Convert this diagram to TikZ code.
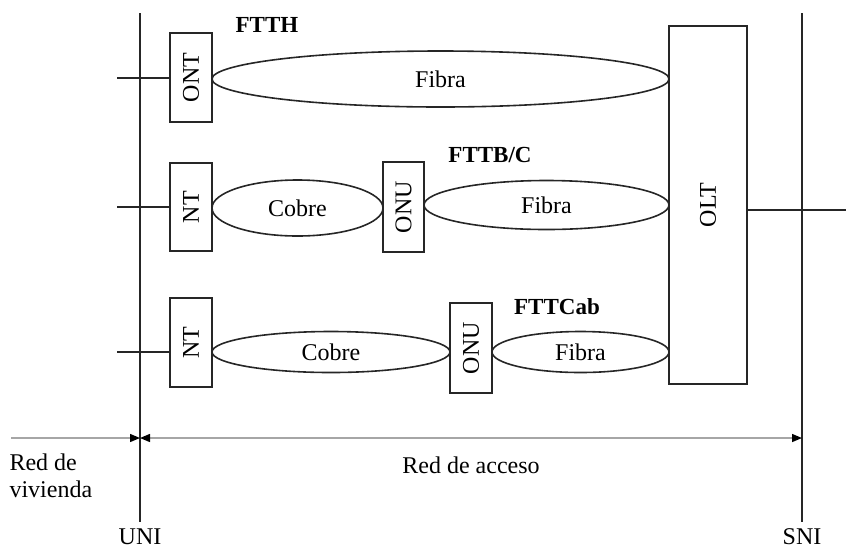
\documentclass[tikz,border=0pt]{standalone}
\usepackage{fontspec}
\setmainfont{Liberation Serif}
\usetikzlibrary{shapes.geometric,arrows.meta}
\begin{document}
\begin{tikzpicture}[x=1pt,y=-1pt,
  ln/.style={line width=1.6pt,draw=black!85},
  boxv/.style={ln,rectangle,rotate=90,inner sep=0pt,font=\fontsize{24}{26}\selectfont},
  ell/.style={ln,ellipse,inner sep=0pt,font=\fontsize{24}{26}\selectfont},
  lbl/.style={font=\fontsize{24}{26}\selectfont},
  blbl/.style={font=\bfseries\fontsize{23}{26}\selectfont},
  dim/.style={line width=1.4pt,draw=black!35},
  tip/.tip={Triangle[length=10pt,width=8pt,black]}
]
\useasboundingbox (0,0) rectangle (846,550);
% interface lines
\coordinate (unitop) at (140,13);
\coordinate (unibot) at (140,522);
\coordinate (snitop) at (802,13);
\coordinate (snibot) at (802,522);
\draw[ln] (unitop) -- (unibot);
\draw[ln] (snitop) -- (snibot);
\node[lbl] (uni) at (140,537) {UNI};
\node[lbl] (sni) at (802,537) {SNI};
% OLT
\node[boxv,minimum width=358pt,minimum height=78pt] (olt) at (708,205) {OLT};
\coordinate (oltout) at (846,210);
\draw[ln] (olt.south |- oltout) -- (oltout);
% Row 1 FTTH
\node[boxv,minimum width=89pt,minimum height=42pt] (ont) at (191,77.5) {ONT};
\coordinate (s1) at (117,78);
\draw[ln] (s1) -- (s1 -| ont.north);
\node[ell,minimum width=457pt,minimum height=56pt] (f1) at (440.5,79) {Fibra};
\node[blbl] (ftth) at (267,25) {FTTH};
% Row 2 FTTB/C
\node[boxv,minimum width=88pt,minimum height=42pt] (nt2) at (191,207) {NT};
\coordinate (s2) at (117,207);
\draw[ln] (s2) -- (s2 -| nt2.north);
\node[ell,minimum width=171pt,minimum height=56pt] (c2) at (297.5,208) {Cobre};
\node[boxv,minimum width=90pt,minimum height=41pt] (onu2) at (403.5,207) {ONU};
\node[ell,minimum width=245pt,minimum height=49pt] (f2) at (546.5,205) {Fibra};
\node[blbl] (fttb) at (490,155) {FTTB/C};
% Row 3 FTTCab
\node[boxv,minimum width=89pt,minimum height=42pt] (nt3) at (191,342.5) {NT};
\coordinate (s3) at (117,352);
\draw[ln] (s3) -- (s3 -| nt3.north);
\node[ell,minimum width=238pt,minimum height=41pt] (c3) at (331,352) {Cobre};
\node[boxv,minimum width=90pt,minimum height=42pt] (onu3) at (471,348) {ONU};
\node[ell,minimum width=177pt,minimum height=41pt] (f3) at (580.5,352) {Fibra};
\node[blbl] (fttcab) at (557,307) {FTTCab};
% dimension arrows
\coordinate (dl) at (11,438);
\coordinate (dm) at (140,438);
\coordinate (dr) at (802,438);
\draw[dim,-{tip}] (dl) -- (dm);
\draw[dim,{tip}-{tip}] (dm) -- (dr);
\node[lbl,anchor=west,align=left] (viv) at (6,476) {Red de\\[1pt]vivienda};
\node[lbl] (acc) at (471,465) {Red de acceso};
\end{tikzpicture}
\end{document}
